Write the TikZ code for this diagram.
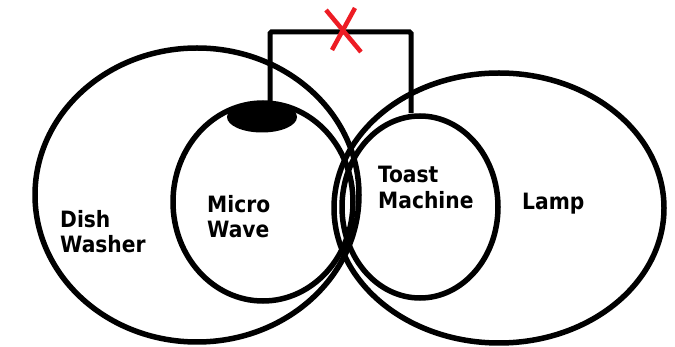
\documentclass[tikz,border=0pt]{standalone}
\usepackage{fontspec}
\newfontfamily\labfont{DejaVu Sans Condensed}
\usetikzlibrary{shapes.geometric}
\definecolor{paintred}{HTML}{ED1C24}
\tikzset{
  ring/.style={draw=black, line width=5.5pt, ellipse, inner sep=0pt},
  lab/.style={anchor=base west, inner sep=0pt, font=\labfont\bfseries\fontsize{22.5}{25}\selectfont},
  wire/.style={draw=black, line width=5pt, rounded corners=1.5pt},
  cross/.style={draw=paintred, line width=4.5pt}
}
\begin{document}
\begin{tikzpicture}[x=1pt,y=-1pt]
\useasboundingbox (0,0) rectangle (675,347);
% rings
\node[ring, minimum width=324pt, minimum height=294pt] (dw) at (197,195) {};
\node[ring, minimum width=180pt, minimum height=198pt] (mw) at (263,202) {};
\node[ring, minimum width=156pt, minimum height=182pt] (tm) at (420,207) {};
\node[ring, minimum width=330pt, minimum height=270pt] (lamp) at (499,208) {};
% plug blob
\node[ellipse, fill=black, minimum width=70pt, minimum height=31pt, inner sep=0pt] (blob) at (262,117) {};
% wire
\coordinate (wl) at (270,32);
\coordinate (wr) at (411,32);
\draw[wire] (wl |- blob.north) -- (wl) -- (wr) -- (wr |- tm.north);
% red cross
\draw[cross] (326,10) -- (361,52);
\draw[cross] (355,8) -- (332,50);
% labels
\node[lab] (dish) at (60,228) {Dish};
\node[lab] (washer) at (60,253) {Washer};
\node[lab] (micro) at (207,213) {Micro};
\node[lab] (wave) at (207,238) {Wave};
\node[lab] (toast) at (378,183) {Toast};
\node[lab] (machine) at (378,209) {Machine};
\node[lab] (lampl) at (522,210) {Lamp};
\end{tikzpicture}
\end{document}
